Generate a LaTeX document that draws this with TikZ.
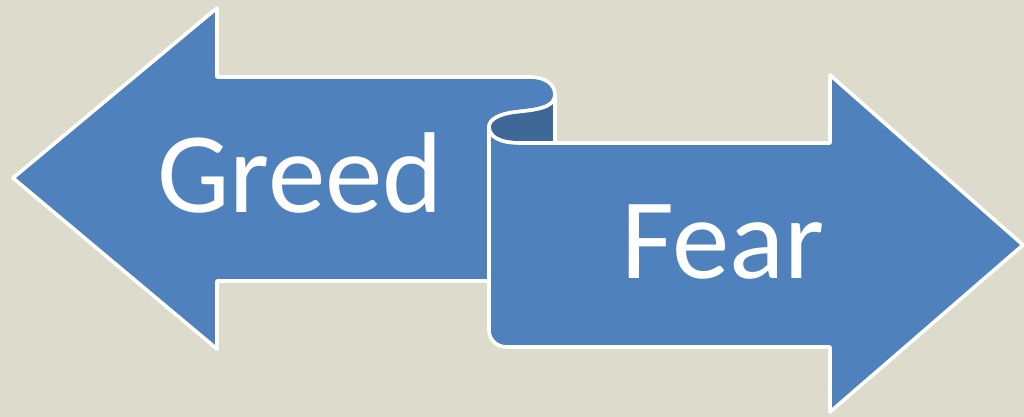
\documentclass[tikz,border=0pt]{standalone}
\usepackage{fontspec}
\setmainfont{Carlito}
\definecolor{scrollblue}{RGB}{79,129,189}
\definecolor{scrolldark}{RGB}{63,103,151}
\definecolor{scrollback}{RGB}{221,219,203}
\tikzset{
  scroll arrow/.style={draw=white,line width=3.6pt,line join=round,fill=scrollblue},
  scroll curl/.style={draw=white,line width=3.6pt,line join=round,fill=scrolldark},
  scroll label/.style={text=white,anchor=base,inner sep=0pt,font=\fontsize{115}{138}\selectfont}
}
\begin{document}
\begin{tikzpicture}[x=1pt,y=-1pt]
    \fill[scrollback] (0,0) rectangle (1024,417);
    \useasboundingbox (0,0) rectangle (1024,417);
    % left arrow
    \coordinate (LT) at (13,178);
    \coordinate (LA) at (217,8);
    \coordinate (LB) at (217,349);
    \draw[scroll arrow] (LT)--(LA)--(217,77)--(530,77)
      .. controls (545,77) and (555,84) .. (555,95)
      .. controls (555,108) and (535,110) .. (515,112)
      .. controls (500,114) and (489,119) .. (489,127)
      --(489,281)--(217,281)--(LB)--cycle;
    % underside of the curl
    \draw[scroll curl] (555,95)
      .. controls (555,108) and (535,110) .. (515,112)
      .. controls (500,114) and (489,119) .. (489,127)
      .. controls (489,137) and (500,143) .. (520,143)
      --(555,143)--cycle;
    % right arrow
    \coordinate (RT) at (1023,245);
    \coordinate (RA) at (830,75);
    \coordinate (RB) at (830,412);
    \draw[scroll arrow] (489,127)
      .. controls (489,137) and (500,143) .. (520,143)
      --(830,143)--(RA)--(RT)--(RB)--(830,347)--(507,347)
      .. controls (497,347) and (489,340) .. (489,330)--cycle;
    \node[scroll label] (greed) at (300,212) {Greed};
    \node[scroll label] (fear) at (723,278) {Fear};
  \end{tikzpicture}
\end{document}
